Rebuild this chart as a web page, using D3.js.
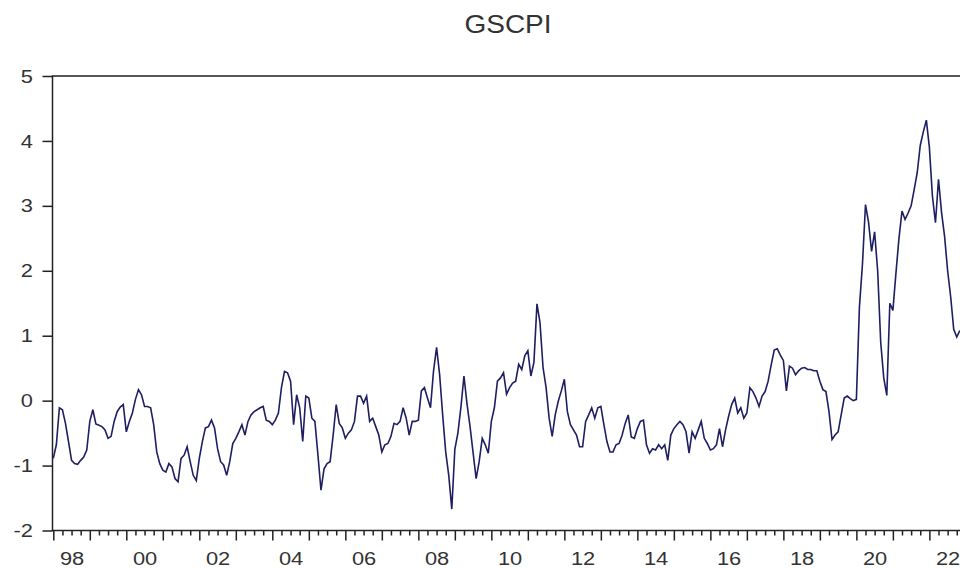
<!DOCTYPE html>
<html lang="en">
<head>
  <meta charset="utf-8">
  <title>GSCPI</title>
  <script src="https://d3js.org/d3.v7.min.js"></script>
  <style>
    body { margin: 0; background: #fff; }
    svg text { font-family: "Liberation Sans", Arial, sans-serif; fill: #333; }
  </style>
</head>
<body>
<script>
  var w = 960, h = 568;

  // monthly GSCPI, Jan 1998 .. Nov 2022
  var startYear = 1998;
  var gscpi = [
    -0.89,-0.68,-0.11,-0.14,-0.35,-0.63,-0.92,-0.97,-0.98,-0.92,-0.87,-0.76,
    -0.32,-0.14,-0.36,-0.38,-0.40,-0.45,-0.58,-0.55,-0.32,-0.17,-0.10,-0.06,
    -0.48,-0.32,-0.19,0.02,0.17,0.09,-0.09,-0.09,-0.11,-0.37,-0.79,-0.97,
    -1.07,-1.10,-0.97,-1.02,-1.20,-1.25,-0.89,-0.84,-0.71,-0.94,-1.15,-1.23,
    -0.89,-0.63,-0.42,-0.40,-0.30,-0.42,-0.74,-0.94,-0.99,-1.15,-0.94,-0.66,
    -0.58,-0.48,-0.37,-0.53,-0.32,-0.22,-0.17,-0.14,-0.11,-0.09,-0.30,-0.32,
    -0.37,-0.30,-0.19,0.20,0.45,0.43,0.30,-0.37,0.09,-0.11,-0.63,0.07,
    0.04,-0.27,-0.32,-0.84,-1.38,-1.05,-0.97,-0.94,-0.53,-0.06,-0.35,-0.42,
    -0.58,-0.50,-0.45,-0.32,0.07,0.07,-0.04,0.07,-0.32,-0.27,-0.40,-0.53,
    -0.79,-0.68,-0.66,-0.55,-0.35,-0.37,-0.32,-0.11,-0.27,-0.53,-0.32,-0.32,
    -0.30,0.15,0.20,0.04,-0.11,0.46,0.82,0.40,-0.22,-0.79,-1.15,-1.67,
    -0.75,-0.50,-0.10,0.38,-0.05,-0.40,-0.80,-1.20,-0.94,-0.58,-0.68,-0.81,
    -0.32,-0.11,0.30,0.35,0.43,0.10,0.20,0.27,0.30,0.56,0.48,0.69,
    0.77,0.38,0.59,1.49,1.20,0.51,0.20,-0.27,-0.55,-0.22,-0.01,0.15,
    0.33,-0.17,-0.37,-0.45,-0.53,-0.71,-0.71,-0.32,-0.22,-0.11,-0.27,-0.11,
    -0.09,-0.37,-0.63,-0.79,-0.79,-0.68,-0.66,-0.53,-0.35,-0.22,-0.56,-0.58,
    -0.43,-0.32,-0.30,-0.68,-0.81,-0.74,-0.76,-0.68,-0.74,-0.68,-0.92,-0.53,
    -0.43,-0.37,-0.32,-0.37,-0.48,-0.81,-0.48,-0.58,-0.45,-0.32,-0.58,-0.66,
    -0.76,-0.74,-0.68,-0.43,-0.71,-0.45,-0.24,-0.06,0.04,-0.19,-0.11,-0.27,
    -0.19,0.20,0.14,0.04,-0.09,0.07,0.14,0.30,0.55,0.78,0.80,0.70,
    0.62,0.15,0.53,0.50,0.40,0.46,0.50,0.51,0.48,0.48,0.46,0.46,
    0.30,0.17,0.14,-0.17,-0.60,-0.53,-0.48,-0.22,0.04,0.07,0.03,0.00,
    0.02,1.44,2.10,3.02,2.75,2.30,2.60,2.00,0.90,0.35,0.08,1.50,
    1.39,1.96,2.50,2.92,2.79,2.89,3.00,3.25,3.51,3.93,4.14,4.32,
    3.90,3.15,2.74,3.41,2.90,2.53,2.00,1.60,1.10,0.98,1.08
  ];
  var yTicks = [-2, -1, 0, 1, 2, 3, 4, 5];
  var yearLabels = ["98","00","02","04","06","08","10","12","14","16","18","20","22"];

  var plotL = 52.5, plotR = 961, plotT = 76, plotB = 530.5;
  var stretch = "scale(1.15,1)";

  var svg = d3.select("body").append("svg")
    .attr("width", w)
    .attr("height", h);

  // month index -> x
  var x = d3.scaleLinear()
    .domain([0, gscpi.length - 1])
    .range([plotL + 0.8, 959.8]);

  var y = d3.scaleLinear()
    .domain([-2, 5])
    .range([plotB, plotT]);

  // title
  svg.append("text")
    .attr("transform", "translate(508,33) scale(1.12,1)")
    .attr("text-anchor", "middle")
    .style("font-size", "25px")
    .text("GSCPI");

  // y axis
  svg.append("g")
    .attr("transform", "translate(" + plotL + ",0)")
    .call(d3.axisLeft(y).tickValues(yTicks).tickSize(10).tickSizeOuter(0).tickPadding(7)
      .tickFormat(function(d) { return String(d); }))
    .call(function(g) { g.select(".domain").remove(); })
    .call(function(g) {
      g.selectAll("line").attr("stroke", "#222").attr("stroke-width", 1.5);
      g.selectAll("text").attr("transform", stretch).style("font-size", "19px");
    });

  // x axis: year ticks, quarter ticks, two-year labels
  var yearIdx = d3.range(0, gscpi.length, 12);
  var quarterIdx = d3.range(0, gscpi.length, 3).filter(function(d) { return d % 12 != 0; });
  var labelIdx = yearLabels.map(function(d, i) { return 6 + 24 * i; });

  svg.append("g")
    .attr("transform", "translate(0," + plotB + ")")
    .call(d3.axisBottom(x).tickValues(quarterIdx).tickSize(5).tickSizeOuter(0).tickFormat(""))
    .call(function(g) { g.select(".domain").remove(); })
    .call(function(g) { g.selectAll("line").attr("stroke", "#222").attr("stroke-width", 1.5); });

  svg.append("g")
    .attr("transform", "translate(0," + plotB + ")")
    .call(d3.axisBottom(x).tickValues(yearIdx).tickSize(10).tickSizeOuter(0).tickFormat(""))
    .call(function(g) { g.select(".domain").remove(); })
    .call(function(g) { g.selectAll("line").attr("stroke", "#222").attr("stroke-width", 1.5); });

  svg.append("g")
    .attr("transform", "translate(0," + plotB + ")")
    .call(d3.axisBottom(x).tickValues(labelIdx).tickSize(0).tickPadding(21)
      .tickFormat(function(d, i) { return yearLabels[i]; }))
    .call(function(g) { g.select(".domain").remove(); })
    .call(function(g) {
      g.selectAll("text").attr("transform", stretch).style("font-size", "19px");
    });

  // frame
  svg.append("rect")
    .attr("x", plotL)
    .attr("y", plotT)
    .attr("width", plotR - plotL)
    .attr("height", plotB - plotT)
    .attr("fill", "none")
    .attr("stroke", "#222")
    .attr("stroke-width", 1.5);

  // series
  var line = d3.line()
    .x(function(d, i) { return x(i); })
    .y(function(d) { return y(d); });

  svg.append("path")
    .datum(gscpi)
    .attr("fill", "none")
    .attr("stroke", "#1e1e62")
    .attr("stroke-width", 1.6)
    .attr("stroke-linejoin", "miter")
    .attr("d", line);
</script>
</body>
</html>
